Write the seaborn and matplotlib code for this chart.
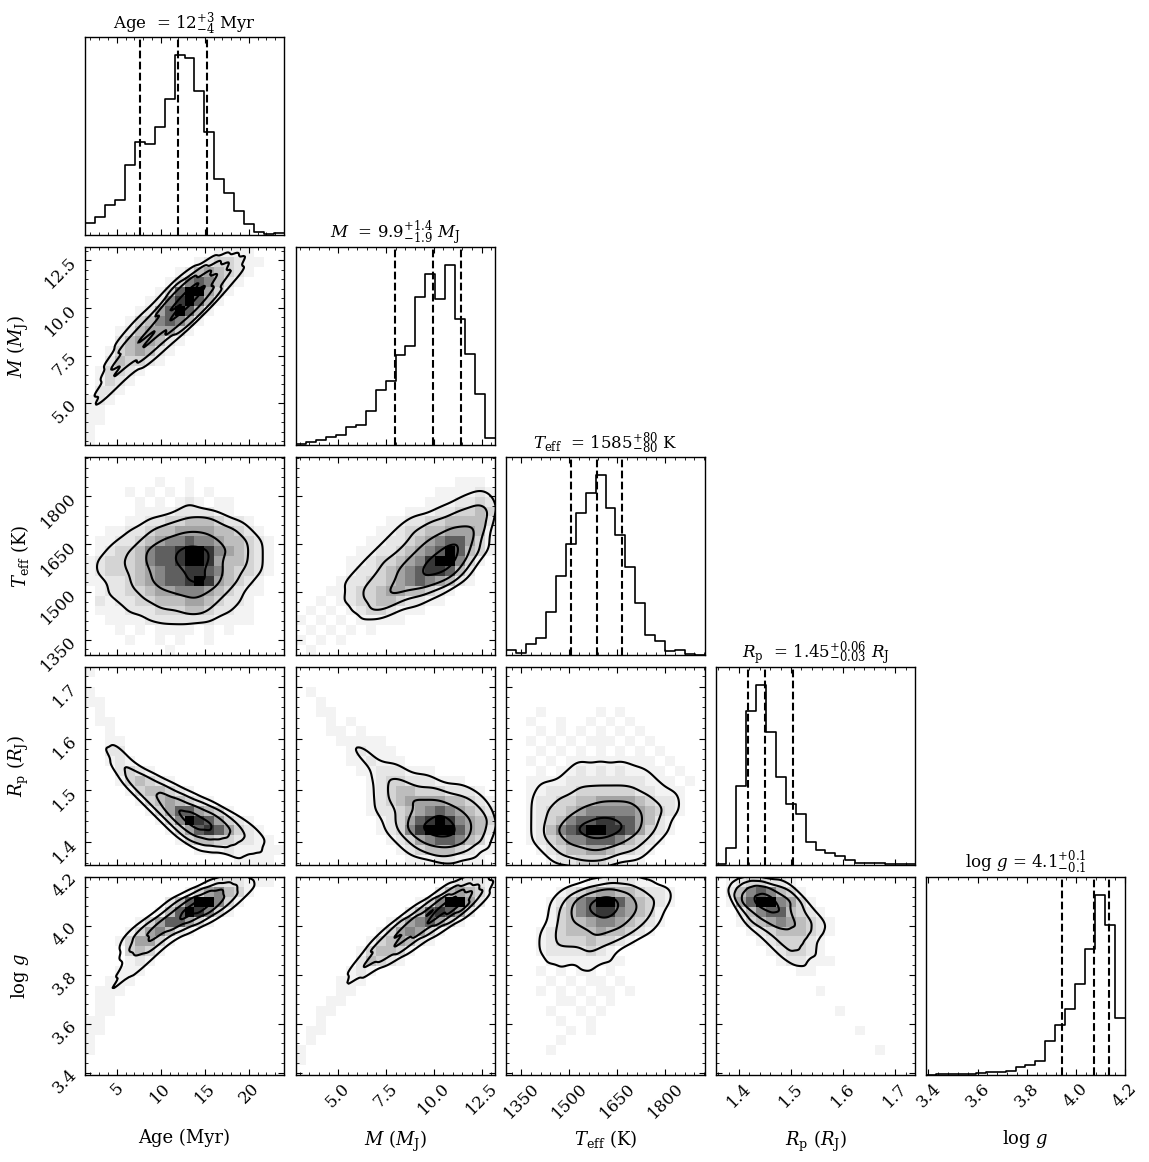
import numpy as np
import pandas as pd
import matplotlib
matplotlib.use("Agg")
import matplotlib.pyplot as plt
import seaborn as sns
from matplotlib.ticker import FixedLocator, AutoMinorLocator, NullLocator

# axis ranges of the posterior samples
age_range = [1.4, 24.0]
mass_range = [2.8, 13.2]
teff_range = [1302, 1924]
radius_range = [1.356, 1.738]
logg_range = [3.39, 4.20]

# 1D histogram counts (20 bins each)
age_counts = [37, 55, 92, 107, 213, 282, 277, 329, 412, 547, 538, 437, 312, 170, 128, 74, 32, 10, 4, 6]
mass_counts = [3, 8, 15, 25, 30, 55, 60, 103, 167, 193, 272, 299, 448, 518, 442, 545, 382, 277, 153, 22]
teff_counts = [14, 6, 34, 51, 131, 238, 335, 428, 490, 543, 443, 363, 265, 156, 61, 41, 13, 14, 3, 1]
radius_counts = [3, 50, 237, 463, 540, 398, 263, 182, 153, 70, 45, 35, 27, 15, 7, 5, 5, 3, 3, 2]
logg_counts = [1, 2, 2, 3, 4, 6, 8, 10, 12, 23, 30, 43, 103, 151, 200, 275, 381, 543, 452, 173]

# 16/50/84 percentiles
age_q = [7.7, 12.0, 15.2]
mass_q = [7.96, 9.95, 11.4]
teff_q = [1505, 1585, 1665]
radius_q = [1.418, 1.45, 1.504]
logg_q = [3.943, 4.072, 4.134]

# titles and labels
age_title = r"Age  = $12^{+3}_{-4}$ Myr"
mass_title = r"$M$  = $9.9^{+1.4}_{-1.9}$ $M_\mathrm{J}$"
teff_title = r"$T_\mathrm{eff}$  = $1585^{+80}_{-80}$ K"
radius_title = r"$R_\mathrm{p}$  = $1.45^{+0.06}_{-0.03}$ $R_\mathrm{J}$"
logg_title = r"$\log\,g$ = $4.1^{+0.1}_{-0.1}$"

age_label = "Age (Myr)"
mass_label = r"$M$ ($M_\mathrm{J}$)"
teff_label = r"$T_\mathrm{eff}$ (K)"
radius_label = r"$R_\mathrm{p}$ ($R_\mathrm{J}$)"
logg_label = r"$\log\,g$"

age_ticks = [5, 10, 15, 20]
mass_ticks = [5.0, 7.5, 10.0, 12.5]
teff_ticks = [1350, 1500, 1650, 1800]
radius_ticks = [1.4, 1.5, 1.6, 1.7]
logg_ticks = [3.4, 3.6, 3.8, 4.0, 4.2]
age_ticklabels = ["5", "10", "15", "20"]
mass_ticklabels = ["5.0", "7.5", "10.0", "12.5"]
teff_ticklabels = ["1350", "1500", "1650", "1800"]
radius_ticklabels = ["1.4", "1.5", "1.6", "1.7"]
logg_ticklabels = ["3.4", "3.6", "3.8", "4.0", "4.2"]

# 2D histogram counts (20x20, top row = highest y value), 0-9 scale
grid_age_mass = [
    "00000000000001111000",
    "00000000000123321100",
    "00000000012454321000",
    "00000000136764210000",
    "00000001379953100000",
    "00000012689741000000",
    "00000125797410000000",
    "00001346764100000000",
    "00012455531000000000",
    "00024554210000000000",
    "00134542100000000000",
    "00243321000000000000",
    "01332100000000000000",
    "01321000000000000000",
    "02210000000000000000",
    "12100000000000000000",
    "11000000000000000000",
    "11000000000000000000",
    "10000000000000000000",
    "10000000000000000000",
]
grid_age_teff = [
    "00000000000000000000",
    "00000000000000000000",
    "00000001001000000000",
    "00001010101010000000",
    "00000101012101100000",
    "00000111122221100000",
    "00001122334443221000",
    "00112234455554432100",
    "01122345667665443210",
    "01233467789986543210",
    "12333467789985443210",
    "12333456778876433210",
    "11223456778985432100",
    "01223345566654321100",
    "02122334445543221000",
    "01112223334432211000",
    "00111122222221111000",
    "00010101111010100000",
    "00001001010010000000",
    "00000000100000000000",
]
grid_age_radius = [
    "10000000000000000000",
    "00000000000000000000",
    "10000000000000000000",
    "11000000000000000000",
    "01000000000000000000",
    "01100000000000000000",
    "00100000000000000000",
    "00110000000000000000",
    "00220000000000000000",
    "00121000000000000000",
    "00023210000000000000",
    "00013432100000000000",
    "00001344321000000000",
    "00000134543210000000",
    "00000013577543100000",
    "00000001369875321000",
    "00000000135787532100",
    "00000000013443322110",
    "00000000000111211111",
    "00000000000000011110",
]
grid_age_logg = [
    "00000000000012221110",
    "00000000001356431000",
    "00000000247996310000",
    "00000001479863100000",
    "00000135775310000000",
    "00001356421000000000",
    "00013553100000000000",
    "00003431000000000000",
    "00001210000000000000",
    "00011100000000000000",
    "00111000000000000000",
    "01110000000000000000",
    "01100000000000000000",
    "01100000000000000000",
    "11000000000000000000",
    "11000000000000000000",
    "10000000000000000000",
    "10000000000000000000",
    "00000000000000000000",
    "00000000000000000000",
]
grid_mass_teff = [
    "00000000000000000000",
    "00000000000000000000",
    "00000000000000001110",
    "00000000000000111121",
    "00000000000001112232",
    "00000000000111223343",
    "00000000011223344442",
    "00000000112334455541",
    "00000001122345677531",
    "00000011223456797431",
    "00000112334568996310",
    "00000122345678874200",
    "00001223345676542100",
    "00011233455443210000",
    "00101233443221100000",
    "01010123321110000000",
    "10101011111000000000",
    "01010101000000000000",
    "10101000000000000000",
    "01000000000000000000",
]
grid_mass_radius = [
    "00000000000000000000",
    "00000000000000000000",
    "01000000000000000000",
    "00100000000000000000",
    "00110000000000000000",
    "00010100000000000000",
    "00011010000000000000",
    "00001111100000000000",
    "00000121110000000000",
    "00000112111000000000",
    "00000011222111000000",
    "00000001233222111000",
    "00000001234433322210",
    "00000001234555544321",
    "00000001223456765432",
    "00000000123578986543",
    "00000000123689997542",
    "00000000012356776431",
    "00000000001234443211",
    "00000000000111221110",
]
grid_mass_logg = [
    "00000000000000012221",
    "00000000000000245431",
    "00000000000013699520",
    "00000000000247875200",
    "00000000013567531000",
    "00000000135653100000",
    "00000001345421000000",
    "00000013443100000000",
    "00000024321000000000",
    "00000121000000000000",
    "00001110000000000000",
    "00001100000000000000",
    "00011000000000000000",
    "00110000000000000000",
    "00100000000000000000",
    "01100000000000000000",
    "01000000000000000000",
    "10000000000000000000",
    "10000000000000000000",
    "00000000000000000000",
]
grid_teff_radius = [
    "00000000000000000000",
    "00000000000000000000",
    "00000000000000000000",
    "00000000000000000000",
    "00010000010100000000",
    "00100100101010000000",
    "00010101010101000000",
    "00101010111010100000",
    "00010101010101010000",
    "00101011111111101000",
    "00010112121211110100",
    "00111122222222111010",
    "00112223333332211100",
    "00122334455554322100",
    "00123345666665432100",
    "00123467788775421000",
    "00124678998875321000",
    "00123466777643210000",
    "00012344554332100000",
    "00001223332111000000",
]
grid_teff_logg = [
    "00000000112221100000",
    "00000123455443221000",
    "00001246799754321000",
    "00001346788654310000",
    "00001344566543210000",
    "00012344454432100000",
    "00012333433210000000",
    "00012222321000000000",
    "00001111111100000000",
    "00010101101000000000",
    "00001010110100000000",
    "00010101011010000000",
    "00000110101000000000",
    "00001001010000000000",
    "00000100100000000000",
    "00000010100000000000",
    "00000100000000000000",
    "00001000000000000000",
    "00000000000000000000",
    "00000000000000000000",
]
grid_radius_logg = [
    "01233221000000000000",
    "02467643100000000000",
    "01579965310000000000",
    "00246774321000000000",
    "00134565432100000000",
    "00012344432100000000",
    "00001233321000000000",
    "00000123321000000000",
    "00000012211100000000",
    "00000000110000000000",
    "00000000000000000000",
    "00000000001000000000",
    "00000000000000000000",
    "00000000000010000000",
    "00000000000000000000",
    "00000000000000100000",
    "00000000000000000000",
    "00000000000000001000",
    "00000000000000000000",
    "00000000000000000000",
]

params = [
    (age_range, age_counts, age_q, age_title, age_label, age_ticks, age_ticklabels),
    (mass_range, mass_counts, mass_q, mass_title, mass_label, mass_ticks, mass_ticklabels),
    (teff_range, teff_counts, teff_q, teff_title, teff_label, teff_ticks, teff_ticklabels),
    (radius_range, radius_counts, radius_q, radius_title, radius_label, radius_ticks, radius_ticklabels),
    (logg_range, logg_counts, logg_q, logg_title, logg_label, logg_ticks, logg_ticklabels),
]
grids = {
    (1, 0): grid_age_mass, (2, 0): grid_age_teff, (3, 0): grid_age_radius, (4, 0): grid_age_logg,
    (2, 1): grid_mass_teff, (3, 1): grid_mass_radius, (4, 1): grid_mass_logg,
    (3, 2): grid_teff_radius, (4, 2): grid_teff_logg,
    (4, 3): grid_radius_logg,
}

plt.rcParams['font.family'] = ['DejaVu Serif']
plt.rcParams['mathtext.fontset'] = 'dejavuserif'
plt.rcParams.update({
    'xtick.direction': 'in', 'ytick.direction': 'in',
    'xtick.top': True, 'ytick.right': True,
    'xtick.major.size': 4, 'ytick.major.size': 4,
    'xtick.minor.size': 2, 'ytick.minor.size': 2,
    'axes.linewidth': 1.0,
})

W, H = 1149, 1162
fig = plt.figure(figsize=(W / 100, H / 100), dpi=100)
col_left = [85, 296, 506, 716, 926]
row_top = [37, 247, 457, 667, 877]
pw, ph = 199, 198

# grey ramp: level 1 barely visible, level 9 black
density_cmap = sns.blend_palette(["#ffffff", "#f3f3f3", "#e6e6e6", "#d4d4d4", "#bdbdbd",
                                  "#a3a3a3", "#858585", "#606060", "#383838", "#000000"], as_cmap=True)
kde_levels = [0.14, 0.33, 0.61, 0.9]


def style_axis(axis, ticks):
    axis.set_major_locator(FixedLocator(ticks))
    axis.set_minor_locator(AutoMinorLocator(5))


for i in range(5):
    for j in range(5):
        if j > i:
            continue
        ax = fig.add_axes([col_left[j] / W, 1 - (row_top[i] + ph) / H, pw / W, ph / H])
        xr, counts, q, title, xlabel, xt, xtl = params[j]
        if i == j:
            # diagonal: 1D histogram
            edges = np.linspace(xr[0], xr[1], len(counts) + 1)
            hist_df = pd.DataFrame({"x": 0.5 * (edges[1:] + edges[:-1]), "w": counts})
            sns.histplot(data=hist_df, x="x", weights="w", bins=len(counts), binrange=tuple(xr),
                         element="step", fill=False, color="k", linewidth=1.2, ax=ax)
            for v in q:
                ax.axvline(v, color="k", ls="--", lw=1.5)
            ax.set_ylim(0, 1.1 * max(counts))
            ax.set_xlim(xr)
            ax.set_yticks([])
            ax.yaxis.set_minor_locator(NullLocator())
            ax.set_title(title, fontsize=12)
        else:
            yr = params[i][0]
            vals = np.array([[int(c) for c in row.ljust(20, "0")[:20]] for row in grids[(i, j)]])[::-1]
            xe = np.linspace(xr[0], xr[1], vals.shape[1] + 1)
            ye = np.linspace(yr[0], yr[1], vals.shape[0] + 1)
            xc = 0.5 * (xe[1:] + xe[:-1])
            yc = 0.5 * (ye[1:] + ye[:-1])
            X, Y = np.meshgrid(xc, yc)
            df = pd.DataFrame({"x": X.ravel(), "y": Y.ravel(), "w": vals.ravel()})
            df = df[df["w"] > 0]
            sns.histplot(data=df, x="x", y="y", weights="w", bins=(vals.shape[1], vals.shape[0]),
                         binrange=(tuple(xr), tuple(yr)),
                         cmap=density_cmap, vmin=0, vmax=9, ax=ax)
            sns.kdeplot(data=df, x="x", y="y", weights="w", levels=kde_levels,
                        color="k", linewidths=1.5, bw_adjust=0.5, ax=ax)
            ax.set_xlim(xr)
            ax.set_ylim(yr)
            style_axis(ax.yaxis, params[i][5])
            if j == 0:
                ax.set_yticklabels(params[i][6], rotation=45, fontsize=12)
                ax.set_ylabel(params[i][4], fontsize=13)
                ax.yaxis.set_label_coords(-0.27, 0.5)
            else:
                ax.set_yticklabels([])
                ax.set_ylabel("")
        style_axis(ax.xaxis, xt)
        if i == 4:
            ax.set_xticklabels(xtl, rotation=45, fontsize=12)
            ax.set_xlabel(xlabel, fontsize=13)
            ax.xaxis.set_label_coords(0.5, -0.27)
        else:
            ax.set_xticklabels([])
            ax.set_xlabel("")
        if i == j:
            ax.set_ylabel("")

fig.savefig("out.png", dpi=100)
